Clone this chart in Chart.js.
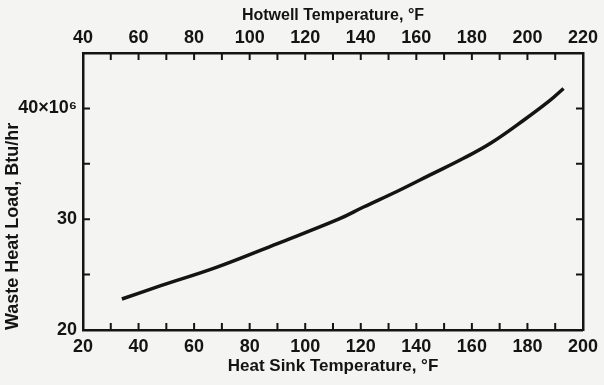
<!DOCTYPE html>
<html>
<head>
<meta charset="utf-8">
<script src="https://cdn.jsdelivr.net/npm/chart.js@4.4.1/dist/chart.umd.min.js"></script>
<style>
  html, body { margin: 0; padding: 0; background: #f4f4f2; }
  #wrap { width: 604px; height: 385px; }
</style>
</head>
<body>
<div id="wrap"><canvas id="heatChart"></canvas></div>
<script>
// heat sink temperature (F)
const sinkTemp = [34, 48, 68, 90, 112, 121, 133, 145, 157, 167, 179, 188, 193];
// waste heat load, millions of Btu/hr
const heatLoad = [22.8, 24.0, 25.65, 27.8, 30.0, 31.1, 32.5, 34.0, 35.5, 36.9, 39.0, 40.7, 41.8];

const sinkTicks = [20, 40, 60, 80, 100, 120, 140, 160, 180, 200];
const hotwellTicks = [40, 60, 80, 100, 120, 140, 160, 180, 200, 220];
const loadTicks = [20, 30, 40];

const ink = '#141414';
const tickFont = { family: 'Liberation Sans', size: 18, weight: 'bold' };
const titleFont = { family: 'Liberation Sans', size: 18, weight: 'bold' };

// small tick marks pointing into the plot box
const innerTicks = {
    id: 'innerTicks',
    afterDraw(chart) {
        const ctx = chart.ctx;
        const a = chart.chartArea;
        const x = chart.scales.x, y = chart.scales.y;
        const len = 7;
        ctx.save();
        ctx.strokeStyle = ink;
        ctx.lineWidth = 2;
        for (let v = 30; v < 200; v += 10) {
            const px = x.getPixelForValue(v);
            ctx.beginPath();
            ctx.moveTo(px, a.bottom); ctx.lineTo(px, a.bottom - len);
            ctx.moveTo(px, a.top); ctx.lineTo(px, a.top + len);
            ctx.stroke();
        }
        for (let v = 25; v < 45; v += 5) {
            const py = y.getPixelForValue(v);
            ctx.beginPath();
            ctx.moveTo(a.left, py); ctx.lineTo(a.left + len, py);
            ctx.moveTo(a.right, py); ctx.lineTo(a.right - len, py);
            ctx.stroke();
        }
        ctx.restore();
    }
};

const paper = {
    id: 'paper',
    beforeDraw(chart) {
        const ctx = chart.ctx;
        ctx.save();
        ctx.fillStyle = '#f4f4f2';
        ctx.fillRect(0, 0, chart.width, chart.height);
        ctx.restore();
    }
};

const config = {
    type: 'line',
    data: {
        datasets: [{
            data: sinkTemp.map((t, i) => ({ x: t, y: heatLoad[i] })),
            borderColor: ink,
            borderWidth: 3.5,
            pointRadius: 0,
            tension: 0.4,
            fill: false
        }]
    },
    options: {
        responsive: true,
        maintainAspectRatio: false,
        animation: false,
        layout: { padding: 0 },
        plugins: { legend: { display: false }, tooltip: { enabled: false } },
        scales: {
            x: {
                type: 'linear', position: 'bottom', min: 20, max: 200,
                afterBuildTicks: s => { s.ticks = sinkTicks.map(v => ({ value: v })); },
                afterFit: s => { s.height = 55; },
                grid: { drawOnChartArea: false, drawTicks: false },
                border: { color: ink, width: 2.5 },
                ticks: { color: ink, font: tickFont, padding: 6, maxRotation: 0 },
                title: { display: true, text: 'Heat Sink Temperature, °F', color: ink, font: { family: 'Liberation Sans', size: 17, weight: 'bold' }, padding: { top: 0, bottom: 8 } }
            },
            x2: {
                type: 'linear', position: 'top', min: 40, max: 220,
                afterBuildTicks: s => { s.ticks = hotwellTicks.map(v => ({ value: v })); },
                afterFit: s => { s.height = 53; },
                grid: { drawOnChartArea: false, drawTicks: false },
                border: { color: ink, width: 2.5 },
                ticks: { color: ink, font: tickFont, padding: 4, maxRotation: 0 },
                title: { display: true, text: 'Hotwell Temperature, °F', color: ink, font: { family: 'Liberation Sans', size: 16, weight: 'bold' }, padding: { top: 6, bottom: 0 } }
            },
            y: {
                type: 'linear', position: 'left', min: 20, max: 45,
                afterBuildTicks: s => { s.ticks = loadTicks.map(v => ({ value: v })); },
                afterFit: s => { s.width = 83; },
                grid: { drawOnChartArea: false, drawTicks: false },
                border: { color: ink, width: 2.5 },
                ticks: {
                    color: ink, font: tickFont, padding: 6,
                    callback: v => v === 40 ? '40×10⁶' : v
                },
                title: { display: true, text: 'Waste Heat Load, Btu/hr', align: 'start', color: ink, font: titleFont, padding: { top: 2, bottom: 0 } }
            },
            y2: {
                type: 'linear', position: 'right', min: 20, max: 45,
                afterFit: s => { s.width = 20; },
                grid: { drawOnChartArea: false, drawTicks: false },
                border: { color: ink, width: 2.5 },
                ticks: { display: false }
            }
        }
    },
    plugins: [paper, innerTicks]
};

const heatChart = new Chart(document.getElementById('heatChart'), config);
</script>
</body>
</html>
